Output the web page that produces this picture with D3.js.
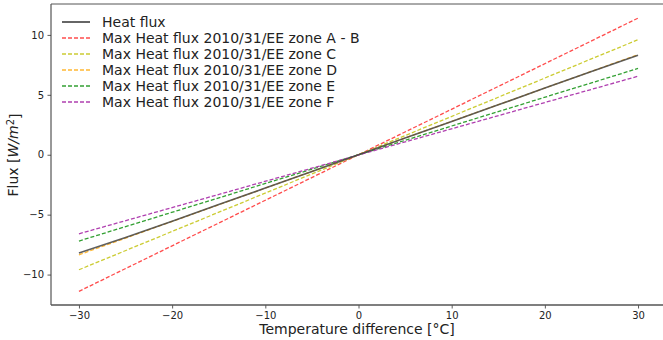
<!DOCTYPE html>
<html lang="en">
<head>
  <meta charset="UTF-8">
  <title>Heat flux</title>
  <style>
    body { margin: 0; background: #fff; }
    text { font-family: "DejaVu Sans", sans-serif; }
  </style>
</head>
<body>
  <script src="https://cdn.jsdelivr.net/npm/d3@7"></script>
  <script>
    // data
    let temps = [-30, -25, -20, -15, -10, -5, 0, 5, 10, 15, 20, 25, 30];
    let heatFlux = [-8.2, -6.9, -5.55, -4.15, -2.78, -1.39, 0, 1.39, 2.78, 4.17, 5.56, 6.95, 8.3];
    let zoneNames = ['zone A - B', 'zone C', 'zone D', 'zone E', 'zone F'];
    let zoneAt30 = [11.4, 9.6, 8.35, 7.2, 6.55];      // flux at +30 °C
    let zoneAtMinus30 = [-11.4, -9.6, -8.35, -7.2, -6.6]; // flux at -30 °C
    let zoneColors = ['#ff4d4d', '#cccc33', '#ffb833', '#33a033', '#b040b0'];
    let xTicks = [-30, -20, -10, 0, 10, 20, 30];
    let yTicks = [-10, -5, 0, 5, 10];

    let width = 663;
    let height = 340;
    let svg = d3.select('body')
                .append('svg')
                .attr('width', width)
                .attr('height', height);

    let mLeft = 51, mRight = 666, mTop = 4, mBottom = 305;
    let x = d3.scaleLinear().domain([-33, 33]).range([mLeft, mRight]);
    let y = d3.scaleLinear().domain([-12.54, 12.58]).range([mBottom, mTop]);

    // axes
    let fmt = d => d < 0 ? '\u2212' + Math.abs(d) : String(d);
    let xAxis = svg.append('g')
       .attr('transform', 'translate(0,' + mBottom + ')')
       .call(d3.axisBottom(x).tickValues(xTicks).tickFormat(fmt).tickSize(3.5).tickPadding(3.5));
    let yAxis = svg.append('g')
       .attr('transform', 'translate(' + mLeft + ',0)')
       .call(d3.axisLeft(y).tickValues(yTicks).tickFormat(fmt).tickSize(3.5).tickPadding(3.5));
    [xAxis, yAxis].forEach(g => {
      g.select('.domain').remove();
      g.selectAll('text').style('font-family', '"DejaVu Sans", sans-serif').style('font-size', '10px').attr('fill', '#222');
      g.selectAll('line').attr('stroke', '#333').attr('stroke-width', 0.8);
    });

    // spines
    svg.append('line').attr('x1', mLeft).attr('x2', mLeft).attr('y1', mTop).attr('y2', mBottom)
       .attr('stroke', '#333').attr('stroke-width', 1);
    svg.append('line').attr('x1', mLeft).attr('x2', mRight).attr('y1', mBottom).attr('y2', mBottom)
       .attr('stroke', '#555').attr('stroke-width', 1.5);
    svg.append('line').attr('x1', mLeft).attr('x2', mRight).attr('y1', mTop).attr('y2', mTop)
       .attr('stroke', '#555').attr('stroke-width', 1);

    // zone lines (dashed)
    let line = d3.line().x(d => x(d[0])).y(d => y(d[1]));
    zoneNames.forEach((z, i) => {
      svg.append('path')
         .datum([[-30, zoneAtMinus30[i]], [30, zoneAt30[i]]])
         .attr('d', line)
         .attr('fill', 'none')
         .attr('stroke', zoneColors[i])
         .attr('stroke-width', 1.3)
         .attr('stroke-dasharray', '4,2');
    });

    // heat flux line
    svg.append('path')
       .datum(temps.map((t, i) => [t, heatFlux[i]]))
       .attr('d', line)
       .attr('fill', 'none')
       .attr('stroke', '#444')
       .attr('stroke-opacity', 0.85)
       .attr('stroke-width', 1.6);

    // legend
    let legend = [{ name: 'Heat flux', color: '#555', dash: null }]
      .concat(zoneNames.map((z, i) => ({ name: 'Max Heat flux 2010/31/EE ' + z, color: zoneColors[i], dash: '4,2' })));
    let lg = svg.append('g');
    legend.forEach((d, i) => {
      let yy = 22 + i * 16;
      lg.append('line').attr('x1', 62).attr('x2', 90).attr('y1', yy).attr('y2', yy)
        .attr('stroke', d.color).attr('stroke-width', d.dash ? 1.3 : 1.8)
        .attr('stroke-dasharray', d.dash);
      lg.append('text').attr('x', 102).attr('y', yy).attr('dy', '0.35em')
        .style('font-size', '14px').attr('fill', '#222').text(d.name);
    });

    // axis titles
    svg.append('text').attr('x', 357).attr('y', 334)
       .attr('text-anchor', 'middle').style('font-size', '14px').attr('fill', '#222')
       .text('Temperature difference [°C]');
    let yl = svg.append('text').attr('transform', 'translate(18,' + 155 + ') rotate(-90)')
       .attr('text-anchor', 'middle').style('font-size', '14px').attr('fill', '#222');
    yl.append('tspan').text('Flux [');
    yl.append('tspan').style('font-style', 'italic').text('W/m');
    yl.append('tspan').attr('dy', '-0.45em').style('font-size', '10px').text('2');
    yl.append('tspan').attr('dy', '0.45em').text(']');
  </script>
</body>
</html>
